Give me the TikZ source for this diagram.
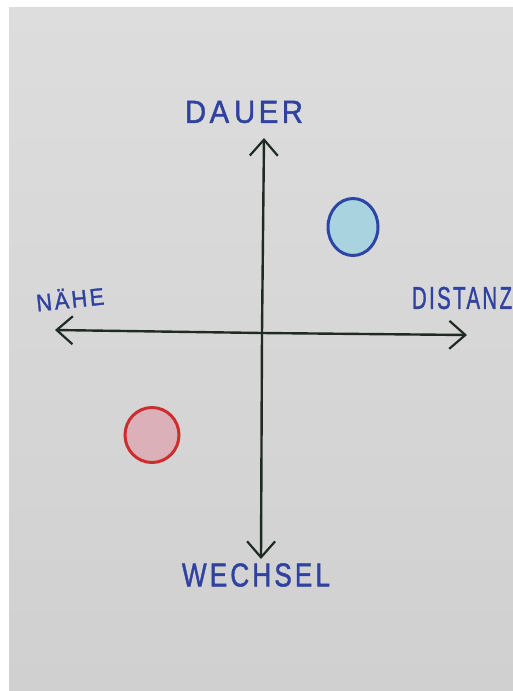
\documentclass[tikz,border=0pt]{standalone}
\usepackage{fontspec}
\setmainfont{Liberation Sans}
\usetikzlibrary{arrows.meta}
\definecolor{paperTop}{HTML}{DDDDDD}
\definecolor{paperBot}{HTML}{D0D0D0}
\definecolor{ink}{HTML}{1F2A23}
\definecolor{penblue}{HTML}{3042A0}
\definecolor{ringblue}{HTML}{2D45A6}
\definecolor{fillblue}{HTML}{A9D4DF}
\definecolor{ringred}{HTML}{CC2E2E}
\definecolor{fillred}{HTML}{DCB0B8}
\newcommand{\pen}[3]{\resizebox{#1}{#2}{\addfontfeature{LetterSpace=12,FakeBold=1.5}#3}}
\tikzset{
  axis/.style={draw=ink, line width=2.4pt, line cap=round,
    -{Straight Barb[length=16pt,width=28pt,line width=2.2pt]}},
  lbl/.style={text=penblue, inner sep=0pt},
}
\begin{document}
\begin{tikzpicture}[x=1pt,y=-1pt]
  \useasboundingbox (0,0) rectangle (513,691);
  % sheet of paper
  \fill[white] (0,0) rectangle (513,691);
  \shade[top color=paperTop, bottom color=paperBot] (9,7) rectangle (513,690);

  % axis end points
  \coordinate (origin) at (262,333);
  \coordinate (top) at (264,138);
  \coordinate (bottom) at (261,559);
  \coordinate (left) at (55,330);
  \coordinate (right) at (467,335);

  \draw[axis] (origin) -- (top);
  \draw[axis] (origin) -- (bottom);
  \draw[axis] (origin) -- (left);
  \draw[axis] (origin) -- (right);

  % axis labels
  \node[lbl] (dauer) at (244,112) {\pen{118pt}{22pt}{DA\,UER}};
  \node[lbl, rotate=6] (naehe) at (70,298) {\pen{68pt}{20pt}{NÄHE}};
  \node[lbl] (distanz) at (462,298) {\pen{100pt}{22pt}{DISTANZ}};
  \node[lbl] (wechsel) at (256,575) {\pen{148pt}{23pt}{WECHSEL}};

  % markers
  \draw[draw=ringblue, fill=fillblue, line width=3pt]
    (353,227) ellipse [x radius=25pt, y radius=28.5pt];
  \draw[draw=ringred, fill=fillred, line width=3pt]
    (152,435) ellipse [x radius=27pt, y radius=27.5pt];
\end{tikzpicture}
\end{document}
